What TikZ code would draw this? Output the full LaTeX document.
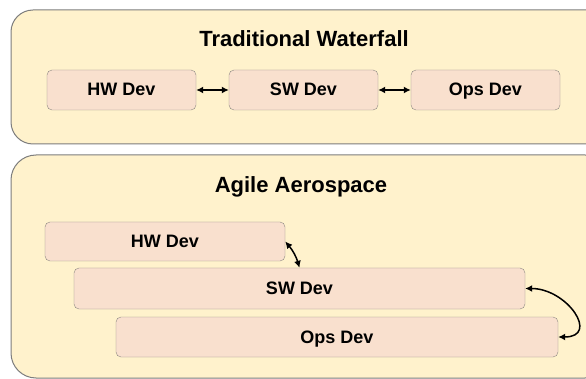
\documentclass[tikz,border=0pt]{standalone}
\usepackage{fontspec}
\setmainfont{Liberation Sans}
\usetikzlibrary{arrows.meta}
\definecolor{panel}{RGB}{255,242,204}
\definecolor{panelline}{RGB}{125,125,125}
\definecolor{task}{RGB}{249,224,206}
\definecolor{taskline}{RGB}{140,135,130}

\begin{document}
\begin{tikzpicture}[x=1pt,y=-1pt,
  panelbox/.style={draw=panelline, fill=panel, line width=1pt},
  heading/.style={font=\fontsize{22}{26}\selectfont\bfseries},
  task/.style={draw=taskline, fill=task, rounded corners=5pt, inner sep=0pt,
    text height=12pt, text depth=0pt,
    font=\fontsize{18}{22}\selectfont\bfseries},
  link/.style={line width=1.5pt, {Latex[length=7pt,width=7pt]}-{Latex[length=7pt,width=7pt]}}]

\clip (0,0) rectangle (586,379);

% Traditional Waterfall
  \draw[panelbox, rounded corners=22pt] (11,10) rectangle (610,144);
  \node[heading] (waterfall) at (304,39) {Traditional Waterfall};

    \node[task, minimum width=149pt, minimum height=40pt] (hwA) at (121.5,90) {HW Dev};
    \node[task, minimum width=149pt, minimum height=40pt] (swA) at (303.5,90) {SW Dev};
    \node[task, minimum width=149pt, minimum height=40pt] (opsA) at (485.5,90) {Ops Dev};

    \draw[link] (hwA) -- (swA);
    \draw[link] (swA) -- (opsA);

% Agile Aerospace
  \draw[panelbox, rounded corners=25pt] (11,155) rectangle (610,378);
  \node[heading] (agile) at (301,187) {Agile Aerospace};

    \node[task, minimum width=240pt, minimum height=39pt] (hwB) at (165,241.5) {HW Dev};
    \node[task, minimum width=451pt, minimum height=41pt] (swB) at (299.5,288.5) {SW Dev};
    \node[task, minimum width=442pt, minimum height=40pt] (opsB) at (337,337) {Ops Dev};

    \draw[link] (hwB.east) to[bend left=12] (swB.north);
    \draw[link] (swB.east) to[out=0, in=0, distance=42pt] (opsB.east);

\end{tikzpicture}
\end{document}
